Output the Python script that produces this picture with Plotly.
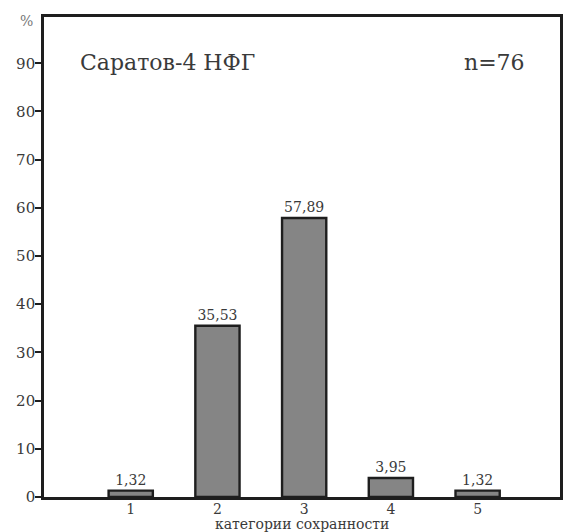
import plotly.graph_objects as go

categories = [1, 2, 3, 4, 5]
values = [1.32, 35.53, 57.89, 3.95, 1.32]
value_labels = ["1,32", "35,53", "57,89", "3,95", "1,32"]
y_ticks = [0, 10, 20, 30, 40, 50, 60, 70, 80, 90]
title_text = "Саратов-4 НФГ"
n_text = "n=76"
x_title = "категории сохранности"

FONT = "DejaVu Serif"
TXT = "#3a3a3a"
LINE = "#1e1e1e"

fig = go.Figure()
fig.add_trace(go.Bar(
    x=categories, y=values, width=0.51,
    marker=dict(color="#858585", line=dict(color=LINE, width=2.4)),
    text=value_labels, textposition="outside", cliponaxis=False,
    textfont=dict(family=FONT, size=14, color=TXT),
))

fig.update_layout(
    width=574, height=532,
    margin=dict(l=44, r=14, t=17, b=35),
    paper_bgcolor="white", plot_bgcolor="white",
    showlegend=False,
    font=dict(family=FONT, color=TXT),
    xaxis=dict(
        range=[0, 5.95], tickvals=categories, ticktext=[str(c) for c in categories],
        showgrid=False, zeroline=False, ticks="", showline=True, linecolor=LINE,
        linewidth=2.6, mirror=True, tickfont=dict(family=FONT, size=14, color=TXT),
        ticklabelstandoff=-3,
    ),
    yaxis=dict(
        range=[0, 99.6], tickvals=y_ticks, showgrid=False, zeroline=False,
        ticks="outside", ticklen=6, tickwidth=2.4, tickcolor=LINE,
        showline=True, linecolor=LINE, linewidth=2.6, mirror=True,
        tickfont=dict(family=FONT, size=15, color=TXT), ticklabelstandoff=-3,
    ),
    annotations=[
        dict(text=title_text, xref="paper", yref="paper", x=0.066, y=0.906,
             xanchor="left", yanchor="middle", showarrow=False,
             font=dict(family=FONT, size=22, color=TXT)),
        dict(text=n_text, xref="paper", yref="paper", x=0.936, y=0.906,
             xanchor="right", yanchor="middle", showarrow=False,
             font=dict(family=FONT, size=22, color=TXT)),
        dict(text="%", xref="paper", yref="paper", x=-0.033, y=0.992,
             xanchor="center", yanchor="middle", showarrow=False,
             font=dict(family=FONT, size=14, color="#777777")),
        dict(text=x_title, xref="paper", yref="paper", x=0.5, y=0, yshift=-27,
             xanchor="center", yanchor="middle", showarrow=False,
             font=dict(family=FONT, size=14, color=TXT)),
    ],
)

fig.write_html("out.html", config={"displayModeBar": False},
               post_script="document.body.style.margin='0';")
